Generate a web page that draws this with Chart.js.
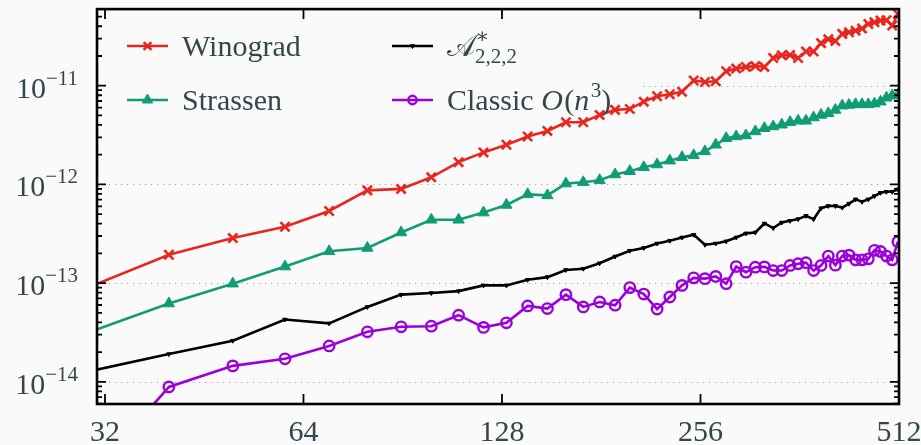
<!DOCTYPE html>
<html>
<head>
<meta charset="utf-8">
<script src="https://cdn.jsdelivr.net/npm/chart.js@4.4.1/dist/chart.umd.min.js"></script>
<style>
  html, body { margin: 0; padding: 0; background: #fafafa; }
</style>
</head>
<body>
<canvas id="chart" width="921" height="445"></canvas>
<script>
// matrix size n
const sizes = [30, 40, 50, 60, 70, 80, 90, 100, 110, 120, 130, 140, 150, 160, 170, 180, 190, 200,
  210, 220, 230, 240, 250, 260, 270, 280, 290, 300, 310, 320, 330, 340, 350, 360, 370, 380, 390,
  400, 410, 420, 430, 440, 450, 460, 470, 480, 490, 500, 510];

const winograd = [8.9e-14, 1.94e-13, 2.86e-13, 3.72e-13, 5.38e-13, 8.7e-13, 9.0e-13, 1.18e-12,
  1.68e-12, 2.11e-12, 2.52e-12, 3.06e-12, 3.48e-12, 4.26e-12, 4.26e-12, 5.06e-12, 5.69e-12,
  5.80e-12, 6.89e-12, 7.82e-12, 8.19e-12, 8.68e-12, 1.13e-11, 1.09e-11, 1.11e-11, 1.40e-11,
  1.49e-11, 1.55e-11, 1.58e-11, 1.55e-11, 1.91e-11, 2.03e-11, 2.05e-11, 1.91e-11, 2.22e-11,
  2.22e-11, 2.70e-11, 2.96e-11, 2.83e-11, 3.35e-11, 3.48e-11, 3.61e-11, 3.79e-11, 4.22e-11,
  4.39e-11, 4.57e-11, 4.60e-11, 4.07e-11, 5.32e-11];

const strassen = [3.11e-14, 6.21e-14, 9.86e-14, 1.47e-13, 2.10e-13, 2.27e-13, 3.26e-13, 4.38e-13,
  4.38e-13, 5.18e-13, 6.19e-13, 7.93e-13, 7.74e-13, 1.02e-12, 1.05e-12, 1.10e-12, 1.26e-12,
  1.36e-12, 1.49e-12, 1.59e-12, 1.74e-12, 1.88e-12, 1.97e-12, 2.16e-12, 2.52e-12, 2.94e-12,
  3.06e-12, 3.13e-12, 3.44e-12, 3.71e-12, 3.86e-12, 4.02e-12, 4.27e-12, 4.41e-12, 4.41e-12,
  4.76e-12, 5.06e-12, 5.25e-12, 5.68e-12, 6.28e-12, 6.38e-12, 6.47e-12, 6.47e-12, 6.47e-12,
  6.58e-12, 6.89e-12, 7.55e-12, 7.91e-12, 8.09e-12];

const alphaStar = [1.26e-14, 1.91e-14, 2.61e-14, 4.28e-14, 3.91e-14, 5.74e-14, 7.64e-14, 7.93e-14,
  8.30e-14, 9.48e-14, 9.48e-14, 1.08e-13, 1.15e-13, 1.36e-13, 1.40e-13, 1.59e-13, 1.86e-13,
  2.13e-13, 2.27e-13, 2.52e-13, 2.69e-13, 2.90e-13, 3.09e-13, 2.45e-13, 2.52e-13, 2.65e-13,
  2.90e-13, 3.19e-13, 3.26e-13, 4.02e-13, 3.61e-13, 4.11e-13, 4.28e-13, 4.45e-13, 4.80e-13,
  4.45e-13, 5.74e-13, 6.05e-13, 6.05e-13, 5.82e-13, 6.38e-13, 7.06e-13, 6.68e-13, 7.06e-13,
  7.62e-13, 8.23e-13, 8.43e-13, 8.43e-13, 8.91e-13];

const classic = [1.0e-15, 8.87e-15, 1.45e-14, 1.71e-14, 2.31e-14, 3.21e-14, 3.61e-14, 3.66e-14,
  4.73e-14, 3.56e-14, 3.96e-14, 5.87e-14, 5.52e-14, 7.64e-14, 5.74e-14, 6.44e-14, 5.97e-14,
  9.0e-14, 7.75e-14, 5.46e-14, 7.23e-14, 9.48e-14, 1.13e-13, 1.11e-13, 1.17e-13, 9.86e-14,
  1.47e-13, 1.29e-13, 1.45e-13, 1.46e-13, 1.34e-13, 1.34e-13, 1.51e-13, 1.57e-13, 1.61e-13,
  1.34e-13, 1.51e-13, 1.88e-13, 1.52e-13, 1.88e-13, 1.92e-13, 1.72e-13, 1.72e-13, 1.76e-13,
  2.15e-13, 2.09e-13, 1.88e-13, 1.72e-13, 2.63e-13];

const xTicks = [32, 64, 128, 256, 512];
const yTickExps = [-14, -13, -12, -11];

const BG = '#fafafa';
const INK = '#33474b';
const SERIF = "'Liberation Serif', 'DejaVu Serif', serif";

const pts = (ys) => sizes.map((n, i) => ({ x: n, y: ys[i] }));

// legend text pieces (it = italic, sup / sub = script)
const legendRuns = [
  [{ t: 'Winograd' }],
  [{ t: 'Strassen' }],
  [{ t: '𝒜' }, { t: '∗', sup: true, keep: true }, { t: '2,2,2', sub: true }],
  [{ t: 'Classic ' }, { t: 'O', it: true }, { t: '(' }, { t: 'n', it: true }, { t: '3', sup: true }, { t: ')' }],
];

function runFont(r) {
  const size = (r.sup || r.sub) ? 21 : 30;
  return (r.it ? 'italic ' : '') + size + 'px ' + SERIF;
}

function drawRuns(ctx, runs, x, base) {
  let cx = x;
  runs.forEach((r) => {
    ctx.font = runFont(r);
    let dy = 0;
    if (r.sup) dy = -13;
    if (r.sub) dy = 7;
    ctx.fillText(r.t, cx, base + dy);
    if (!r.keep) cx += ctx.measureText(r.t).width + (r.it ? 1.5 : 0);
  });
}

function runsWidth(ctx, runs) {
  let w = 0;
  runs.forEach((r) => { ctx.font = runFont(r); w += ctx.measureText(r.t).width; });
  return w;
}

const axesPlugin = {
  id: 'axesPlugin',
  beforeDatasetsDraw(chart) {
    const { ctx, chartArea: a, scales: { y } } = chart;
    ctx.save();
    ctx.strokeStyle = '#a0a0a0';
    ctx.lineWidth = 1.2;
    ctx.setLineDash([1.2, 4.8]);
    yTickExps.forEach((e) => {
      const py = Math.round(y.getPixelForValue(Math.pow(10, e))) + 0.5;
      ctx.beginPath();
      ctx.moveTo(a.left, py);
      ctx.lineTo(a.right, py);
      ctx.stroke();
    });
    ctx.setLineDash([]);
    // legend frame hides the grid behind it
    ctx.fillStyle = BG;
    ctx.fillRect(a.left, a.top, 640 - a.left, 122);
    ctx.restore();
  },
  afterDatasetsDraw(chart) {
    const { ctx, chartArea: a, scales: { x, y } } = chart;
    ctx.save();
    ctx.strokeStyle = '#000';
    ctx.lineCap = 'butt';

    // y ticks, major and minor, inward on both sides
    ctx.lineWidth = 1.8;
    for (let e = -15; e <= -11; e++) {
      for (let m = 1; m <= 9; m++) {
        const v = m * Math.pow(10, e);
        if (v < y.min || v > y.max) continue;
        const py = y.getPixelForValue(v);
        const len = m === 1 ? 9 : 5;
        ctx.beginPath();
        ctx.moveTo(a.left, py); ctx.lineTo(a.left + len, py);
        ctx.moveTo(a.right, py); ctx.lineTo(a.right - len, py);
        ctx.stroke();
      }
    }
    // x ticks, inward top and bottom
    xTicks.forEach((v) => {
      const px = x.getPixelForValue(v);
      ctx.beginPath();
      ctx.moveTo(px, a.bottom); ctx.lineTo(px, a.bottom - 10);
      ctx.moveTo(px, a.top); ctx.lineTo(px, a.top + 10);
      ctx.stroke();
    });
    // frame
    ctx.lineWidth = 2.6;
    ctx.strokeRect(a.left, a.top, a.right - a.left, a.bottom - a.top);

    // tick labels
    ctx.fillStyle = INK;
    ctx.textBaseline = 'alphabetic';
    ctx.textAlign = 'center';
    ctx.font = '30px ' + SERIF;
    xTicks.forEach((v) => {
      ctx.fillText(String(v), x.getPixelForValue(v), 441);
    });
    ctx.textAlign = 'left';
    yTickExps.forEach((e) => {
      const py = y.getPixelForValue(Math.pow(10, e));
      const runs = [{ t: '10' }, { t: '−' + String(-e), sup: true }];
      const w = runsWidth(ctx, runs);
      drawRuns(ctx, runs, 78 - w, py + 12);
    });

    // legend, two columns
    const slots = [[127, 46], [127, 100], [392, 46], [392, 100]];
    chart.data.datasets.forEach((ds, i) => {
      const [lx, ly] = slots[i];
      ctx.strokeStyle = ds.borderColor;
      ctx.fillStyle = ds.pointBackgroundColor;
      ctx.lineWidth = ds.borderWidth;
      ctx.beginPath();
      ctx.moveTo(lx, ly); ctx.lineTo(lx + 41, ly);
      ctx.stroke();
      ctx.lineWidth = ds.pointBorderWidth;
      Chart.helpers.drawPoint(ctx, {
        pointStyle: ds.pointStyle,
        radius: ds.legendRadius,
        rotation: ds.pointRotation || 0,
        borderWidth: ds.pointBorderWidth,
      }, lx + 20.5, ly);
      ctx.fillStyle = INK;
      drawRuns(ctx, legendRuns[i], lx + 55, ly + 10);
    });
    ctx.restore();
  },
};

new Chart(document.getElementById('chart'), {
  type: 'line',
  data: {
    datasets: [
      {
        label: 'Winograd',
        data: pts(winograd),
        borderColor: '#e8261d',
        pointBackgroundColor: '#e8261d',
        pointBorderColor: '#e8261d',
        pointStyle: 'crossRot',
        pointRadius: 6.5,
        legendRadius: 5.5,
        pointBorderWidth: 2.6,
        borderWidth: 2.6,
      },
      {
        label: 'Strassen',
        data: pts(strassen),
        borderColor: '#109c74',
        pointBackgroundColor: '#109c74',
        pointBorderColor: '#109c74',
        pointStyle: 'triangle',
        pointRadius: 6.5,
        legendRadius: 6,
        pointBorderWidth: 1,
        borderWidth: 2.6,
      },
      {
        label: 'A*_{2,2,2}',
        data: pts(alphaStar),
        borderColor: '#000000',
        pointBackgroundColor: '#000000',
        pointBorderColor: '#000000',
        pointStyle: 'triangle',
        pointRotation: 180,
        pointRadius: 2.5,
        legendRadius: 2.5,
        pointBorderWidth: 1,
        borderWidth: 2.6,
      },
      {
        label: 'Classic O(n^3)',
        data: pts(classic),
        borderColor: '#9a00da',
        pointBackgroundColor: 'rgba(0,0,0,0)',
        pointBorderColor: '#9a00da',
        pointStyle: 'circle',
        pointRadius: 5.2,
        legendRadius: 4.2,
        pointBorderWidth: 2.4,
        borderWidth: 2.6,
      },
    ],
  },
  options: {
    responsive: false,
    animation: false,
    layout: { padding: { left: 97, right: 22, top: 7, bottom: 41 } },
    elements: { line: { tension: 0 } },
    datasets: { line: { clip: 0 } },
    scales: {
      x: { type: 'logarithmic', min: 31.12, max: 512, display: false },
      y: { type: 'logarithmic', min: 5.96e-15, max: 5.97e-11, display: false },
    },
    plugins: {
      legend: { display: false },
      tooltip: { enabled: false },
    },
  },
  plugins: [axesPlugin],
});
</script>
</body>
</html>
